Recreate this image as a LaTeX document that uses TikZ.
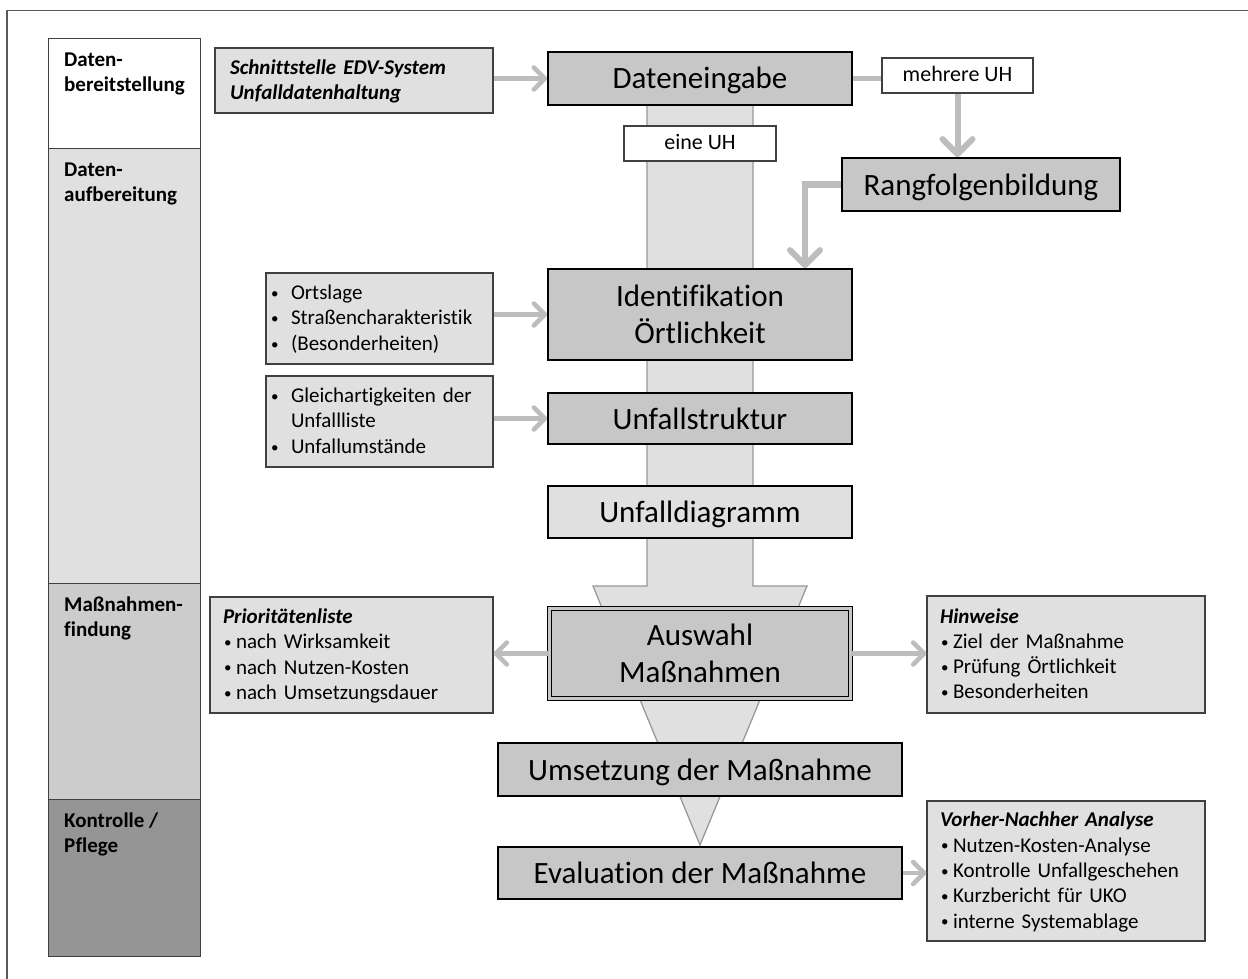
\documentclass[tikz,border=0pt]{standalone}
\usepackage{fontspec}
\setmainfont{Carlito}[Ligatures=NoCommon]
\usetikzlibrary{arrows.meta}
\definecolor{boxdark}{gray}{0.78}
\definecolor{boxlight}{gray}{0.88}
\definecolor{connc}{gray}{0.74}
\definecolor{sideline}{gray}{0.25}
\definecolor{arrline}{gray}{0.6}
\definecolor{colB}{gray}{0.8}
\definecolor{colC}{gray}{0.585}
\definecolor{frameline}{gray}{0.35}
\newcommand\fbig{\fontsize{31pt}{37pt}\selectfont}
\newcommand\fsmall{\fontsize{21pt}{25.3pt}\selectfont}
\newcommand\bigstr{\rule[-8pt]{0pt}{37pt}}
\newcommand\smstr{\rule[-6.2pt]{0pt}{25.3pt}}
\newcommand\mydot{\raisebox{1.2pt}{\fontsize{15pt}{15pt}\selectfont •}}
\newcommand\bA[1]{\smstr\makebox[21pt][l]{\hspace{1pt}\mydot}\mbox{#1}}
\newcommand\bB[1]{\smstr\makebox[13pt][l]{\hspace{1pt}\mydot}\mbox{#1}}
\newcommand\lineof[1]{\smstr\mbox{#1}}
\begin{document}
\begin{tikzpicture}[x=1pt,y=-1pt,
  mainbox/.style={draw=black, line width=1.8pt, fill=boxdark, inner sep=0pt, font=\fbig, align=center, minimum width=304pt},
  sidebox/.style={draw=sideline, line width=1.2pt, fill=boxlight, inner ysep=0pt, font=\fsmall, align=left},
  tagbox/.style={draw=sideline, line width=1.2pt, fill=white, inner sep=0pt, font=\fontsize{22pt}{26pt}\selectfont, minimum width=151pt, minimum height=35pt},
  cell/.style={draw=sideline, line width=1.4pt, minimum width=152pt, inner sep=0pt, anchor=north west},
  celltext/.style={anchor=north west, inner sep=0pt, align=left, font=\fsmall\bfseries, xshift=16pt, yshift=-9pt},
  conn/.style={draw=connc, line width=4.5pt},
  harr/.style={conn, -{Straight Barb[length=11pt,width=22pt,round]}},
  varr/.style={draw=connc, line width=6pt, -{Straight Barb[length=15pt,width=30pt,round]}},
  frame/.style={draw=frameline, line width=1.3pt}
]
\useasboundingbox (0,0) rectangle (1248,979);
\fill[white] (0,0) rectangle (1248,979);
\draw[frame] (7,979) -- (7,10.5) -- (1248,10.5);

% big background arrow
\draw[fill=boxlight, draw=arrline, line width=1.3pt]
  (647,105) -- (647,586) -- (593,586) -- (700,845) -- (807,586) -- (753,586) -- (753,105) -- cycle;

% phase column
\node[cell, fill=white, minimum height=110pt,
  label={[celltext]north west:{\smstr Daten-\\\smstr bereitstellung}}] (c1) at (48,38) {};
\node[cell, fill=boxlight, minimum height=435pt,
  label={[celltext]north west:{\smstr Daten-\\\smstr aufbereitung}}] (c2) at (48,148) {};
\node[cell, fill=colB, minimum height=216pt,
  label={[celltext]north west:{\smstr Maßnahmen-\\\smstr findung}}] (c3) at (48,583) {};
\node[cell, fill=colC, minimum height=157pt,
  label={[celltext]north west:{\smstr Kontrolle /\\\smstr Pflege}}] (c4) at (48,799) {};

% main boxes
\node[mainbox, minimum height=53pt] (dat) at (700,78.5) {\bigstr Dateneingabe};
\node[mainbox, minimum width=278pt, minimum height=53pt] (rang) at (981,184.5) {\bigstr Rangfolgenbildung};
\node[mainbox, minimum height=91pt] (ident) at (700,314.5) {\bigstr Identifikation\\\bigstr Örtlichkeit};
\node[mainbox, minimum height=51pt] (ustr) at (700,418.5) {\bigstr Unfallstruktur};
\node[mainbox, fill=boxlight, minimum height=52pt] (udia) at (700,512) {\bigstr Unfalldiagramm};
\node[mainbox, line width=1.3pt, double=boxdark, double distance=2.5pt, minimum width=301pt, minimum height=90pt] (ausw) at (700,653.5) {\bigstr Auswahl\\\bigstr Maßnahmen};
\node[mainbox, minimum width=404pt, minimum height=53pt] (ums) at (700,769.5) {\bigstr Umsetzung der Maßnahme};
\node[mainbox, minimum width=404pt, minimum height=52pt] (eval) at (700,873) {\bigstr Evaluation der Maßnahme};

% tags
\node[tagbox] (mehr) at (957.5,75.5) {\smstr mehrere UH};
\node[tagbox, minimum width=152pt] (eine) at (700,143.5) {\smstr eine UH};

% side boxes
\node[sidebox, font=\fsmall\bfseries\itshape, inner xsep=15pt, text width=248pt, minimum height=65pt] (schn) at (354,80.5)
  {\lineof{Schnittstelle EDV-System}\\\lineof{Unfalldatenhaltung}};
\node[sidebox, inner xsep=4pt, text width=219pt, minimum height=91pt] (ort) at (379.5,318.5)
  {\bA{Ortslage}\\\bA{Straßencharakteristik}\\\bA{(Besonderheiten)}};
\node[sidebox, inner xsep=4pt, text width=219pt, minimum height=91pt] (gleich) at (379.5,421.5)
  {\bA{Gleichartigkeiten der}\\\smstr\hspace*{21pt}\mbox{Unfallliste}\\\bA{Unfallumstände}};
\node[sidebox, inner xsep=13pt, text width=257pt, minimum height=116pt] (prio) at (351.5,655)
  {\lineof{\textbf{\textit{Prioritätenliste}}}\\\bB{nach Wirksamkeit}\\\bB{nach Nutzen-Kosten}\\\bB{nach Umsetzungsdauer}};
\node[sidebox, inner xsep=13pt, text width=252pt, minimum height=117pt] (hinw) at (1066,654.5)
  {\lineof{\textbf{\textit{Hinweise}}}\\\bB{Ziel der Maßnahme}\\\bB{Prüfung Örtlichkeit}\\\bB{Besonderheiten}};
\node[sidebox, inner xsep=13pt, text width=252pt, minimum height=140pt] (vorh) at (1066,871)
  {\lineof{\textbf{\textit{Vorher-Nachher Analyse}}}\\\bB{Nutzen-Kosten-Analyse}\\\bB{Kontrolle Unfallgeschehen}\\\bB{Kurzbericht für UKO}\\\bB{interne Systemablage}};

% connectors
\draw[harr] (schn.east |- dat.west) -- (dat.west);
\draw[conn] (dat.east) -- (mehr.west |- dat.east);
\draw[varr] (mehr.south) -- (mehr.south |- rang.north);
\draw[varr] (rang.west) -| ([xshift=105pt]ident.north);
\draw[harr] (ort.east |- ident.west) -- (ident.west);
\draw[harr] (gleich.east |- ustr.west) -- (ustr.west);
\draw[harr] (ausw.west) -- (prio.east |- ausw.west);
\draw[harr] (ausw.east) -- (hinw.west |- ausw.east);
\draw[harr] (eval.east) -- (vorh.west |- eval.east);
\end{tikzpicture}
\end{document}
